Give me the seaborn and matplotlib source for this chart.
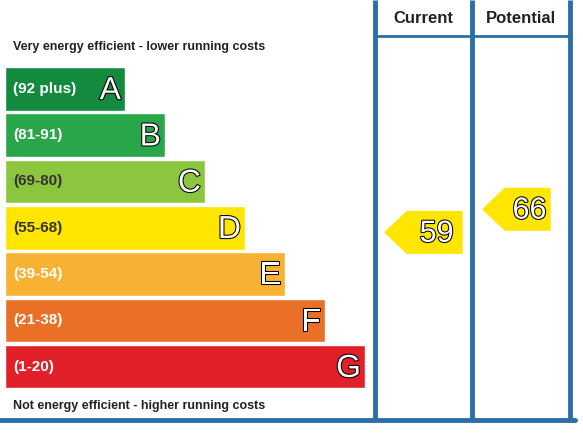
import matplotlib
matplotlib.use("Agg")
import matplotlib.pyplot as plt
import matplotlib.patheffects as pe
from matplotlib.patches import Polygon
import seaborn as sns
import pandas as pd

bands = ["A", "B", "C", "D", "E", "F", "G"]
ranges = ["(92 plus)", "(81-91)", "(69-80)", "(55-68)", "(39-54)", "(21-38)", "(1-20)"]
bar_len = [120, 160, 200, 240, 280, 320, 360]
colours = ["#138a3e", "#2aa64a", "#8cc63f", "#ffe600", "#f7b233", "#ea7028", "#e2202a"]
label_colours = ["white", "white", "#333333", "#333333", "white", "white", "white"]
current = 59
potential = 66
current_pos = 3.1
potential_pos = 2.6

df = pd.DataFrame({"band": bands, "len": bar_len})

sns.set_style("white")
plt.rcParams["font.family"] = ["Liberation Sans", "DejaVu Sans"]
fig = plt.figure(figsize=(5.83, 4.37), dpi=100)
ax = fig.add_axes([0, 0, 1, 1])
sns.barplot(data=df, x="len", y="band", hue="band", palette=colours, saturation=1,
            orient="h", width=0.94, legend=False, ax=ax)
ax.set_xlim(-5, 578)
ax.set_ylim(7.52, -1.92)
ax.axis("off")

for i, (r, b, L) in enumerate(zip(ranges, bands, bar_len)):
    ax.text(8, i, r, color=label_colours[i], fontsize=11, fontweight="bold",
            va="center", ha="left")
    ax.text(L - 4, i + 0.05, b, color="white", fontsize=23, va="center", ha="right",
            path_effects=[pe.withStroke(linewidth=1.5, foreground="black")])

ax.text(8, -0.9, "Very energy efficient - lower running costs", fontsize=9,
        fontweight="bold", color="#222222", va="center")
ax.text(8, 6.85, "Not energy efficient - higher running costs", fontsize=9,
        fontweight="bold", color="#222222", va="center")

blue = "#2a6fa8"
for x in [370, 467, 565]:
    ax.plot([x, x], [-1.92, 7.15], color=blue, lw=3.5, solid_capstyle="butt")
ax.plot([-5, 570], [7.15, 7.15], color=blue, lw=3.5)
ax.plot([370, 565], [-1.15, -1.15], color=blue, lw=2)
ax.text(418, -1.53, "Current", fontsize=12, fontweight="bold", ha="center", va="center", color="#222222")
ax.text(516, -1.53, "Potential", fontsize=12, fontweight="bold", ha="center", va="center", color="#222222")


def arrow(x0, x1, y, val):
    h = 0.45
    pts = [(x0, y), (x0 + 22, y - h), (x1, y - h), (x1, y + h), (x0 + 22, y + h)]
    ax.add_patch(Polygon(pts, closed=True, color="#ffe600"))
    ax.text((x0 + 22 + x1) / 2 + 2, y + 0.03, str(val), fontsize=22, color="white",
            ha="center", va="center",
            path_effects=[pe.withStroke(linewidth=1.5, foreground="black")])


arrow(380, 457, current_pos, current)
arrow(478, 545, potential_pos, potential)

fig.savefig("out.png", dpi=100)
